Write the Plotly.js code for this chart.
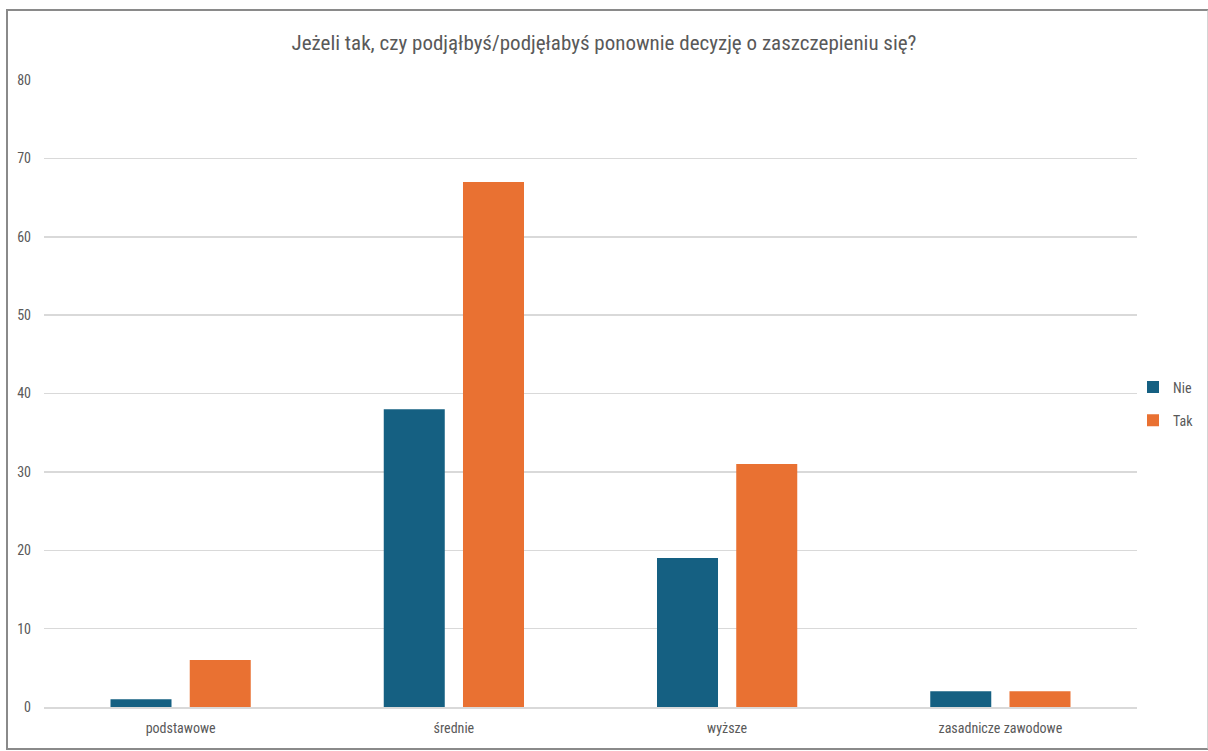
<!DOCTYPE html>
<html>
<head>
<meta charset="utf-8">
<script src="https://cdn.plot.ly/plotly-3.0.1.min.js"></script>
<style>
  html, body { margin: 0; padding: 0; background: #ffffff; }
  #chart { position: absolute; left: 0; top: 0; width: 1208px; height: 751px; }
  #frame { position: absolute; left: 6px; top: 9px; width: 1199px; height: 737px;
           border-left: 2px solid #8a8a8a; border-top: 2px solid #8a8a8a;
           border-bottom: 2px solid #8a8a8a; border-right: 2px solid #d4d4d4;
           pointer-events: none; }
</style>
</head>
<body>
<div id="chart"></div>
<div id="frame"></div>
<script>
const categories = ["podstawowe", "średnie", "wyższe", "zasadnicze zawodowe"];
const nieValues = [1, 38, 19, 2];
const takValues = [6, 67, 31, 2];
const seriesNames = ["Nie", "Tak"];
const chartTitle = "Jeżeli tak, czy podjąłbyś/podjęłabyś ponownie decyzję o zaszczepieniu się?";

const font = "'Liberation Sans Narrow', 'Roboto Condensed', 'Arial Narrow', 'Liberation Sans', sans-serif";
const textColor = "#595959";

const traces = [
  { type: "bar", name: seriesNames[0], x: categories, y: nieValues,
    marker: { color: "#156082" }, legendgroup: "a" },
  { type: "bar", name: seriesNames[1], x: categories, y: takValues,
    marker: { color: "#E97132" }, legendgroup: "b" }
];

const layout = {
  width: 1208, height: 751,
  paper_bgcolor: "#ffffff", plot_bgcolor: "#ffffff",
  margin: { l: 44, r: 71, t: 80, b: 44, autoexpand: false },
  font: { family: font, color: textColor, size: 14 },
  title: { text: chartTitle, x: 0.5, xanchor: "center", y: 1 - 43/751, yanchor: "middle",
           font: { family: font, size: 21, color: textColor } },
  barmode: "group", bargap: 0.42, bargroupgap: 0.23,
  xaxis: { type: "category", showgrid: false, showline: true, linecolor: "#d9d9d9", linewidth: 1.5,
           ticks: "", tickfont: { size: 14, color: textColor }, ticklabelstandoff: 8, fixedrange: true },
  yaxis: { range: [0, 80], dtick: 10, showgrid: true, gridcolor: "#d9d9d9", gridwidth: 1.5,
           zeroline: false, showline: false, ticks: "", tickfont: { size: 14, color: textColor },
           ticklabelstandoff: 12, fixedrange: true },
  legend: { xref: "container", yref: "container", x: 1133/1208, xanchor: "left",
            y: 1 - 404/751, yanchor: "middle", traceorder: "grouped", bgcolor: "rgba(0,0,0,0)",
            tracegroupgap: 12, font: { size: 14, color: textColor }, itemwidth: 30 },
  showlegend: true
};

Plotly.newPlot("chart", traces, layout, { displayModeBar: false, staticPlot: true });
</script>
</body>
</html>
